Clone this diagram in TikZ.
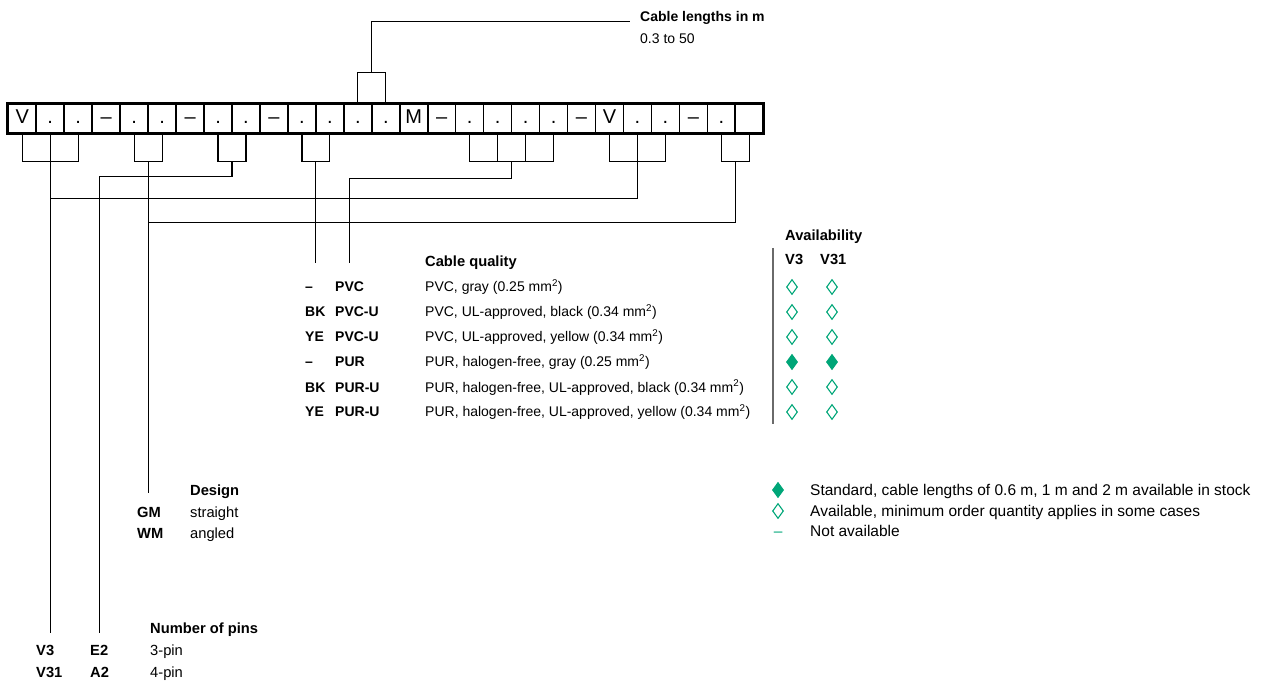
\documentclass[tikz,border=0pt]{standalone}
\usepackage{fontspec}
\setmainfont{Liberation Sans}
\usetikzlibrary{positioning,calc,shapes.geometric}
\definecolor{leaf}{HTML}{00A678}
\definecolor{slate}{HTML}{6A6A6A}
\tikzset{cell/.style={draw,line width=1.6pt,minimum width=27.96pt,minimum height=29pt,inner sep=0pt,text height=15pt,text depth=4pt,font=\fontsize{20}{20}\selectfont},wire/.style={line width=1.2pt},txt/.style={anchor=base west,inner sep=0pt,font=\fontsize{14}{16}\selectfont},code/.style={txt,font=\fontsize{14}{16}\selectfont\bfseries},head/.style={txt,font=\fontsize{14.7}{16}\selectfont\bfseries},note/.style={txt,font=\fontsize{14.7}{16}\selectfont},keyb/.style={txt,font=\fontsize{14.7}{16}\selectfont\bfseries},legend/.style={txt,font=\fontsize{15.5}{17}\selectfont},avail/.style={diamond,draw=leaf,line width=1.1pt,minimum width=11pt,minimum height=15pt,inner sep=0pt},stock/.style={avail,fill=leaf}}
\begin{document}
\begin{tikzpicture}[x=1pt,y=-1pt]
\useasboundingbox (0,0) rectangle (1277,684);
% order code row
\foreach \s [count=\i] in {V,.,.,–,.,.,–,.,.,–,.,.,.,.,M,–,.,.,.,.,–,V,.,.,–,.,{}}
  \node[cell] (c\i) at ({8.33+(\i-0.5)*27.96},118.5) {\s};
\draw[line width=2.6pt] (c1.north west) rectangle (c27.south east);
% labels
\node[head,font=\fontsize{14}{16}\selectfont\bfseries] (len) at (640,22) {Cable lengths in m};
\node[txt] (lenv) at (640,44) {0.3 to 50};
\node[head] (qt) at (425,267) {Cable quality};
\foreach \a/\b/\d [count=\k from 0] in {–/PVC/{PVC, gray (0.25 mm\textsuperscript{2})},BK/PVC-U/{PVC, UL-approved, black (0.34 mm\textsuperscript{2})},YE/PVC-U/{PVC, UL-approved, yellow (0.34 mm\textsuperscript{2})},–/PUR/{PUR, halogen-free, gray (0.25 mm\textsuperscript{2})},BK/PUR-U/{PUR, halogen-free, UL-approved, black (0.34 mm\textsuperscript{2})},YE/PUR-U/{PUR, halogen-free, UL-approved, yellow (0.34 mm\textsuperscript{2})}}{
  \node[code] (qa\k) at (305,292+25*\k) {\a};
  \node[code] (qb\k) at (335,292+25*\k) {\b};
  \node[txt] (qd\k) at (425,292+25*\k) {\d};}
\node[head] (av) at (785,241) {Availability};
\node[keyb] (avA) at (785,265) {V3};
\node[keyb] (avB) at (820,265) {V31};
\draw[slate,line width=1.5pt] (773,248) -- (773,424);
\foreach \st [count=\k from 0] in {avail,avail,avail,stock,avail,avail}{
  \node[\st] (da\k) at (792,287+25*\k) {};
  \node[\st] (db\k) at (832,287+25*\k) {};}
\node[stock] (lg1) at (778,490) {};
\node[avail] (lg2) at (778,511) {};
\node[legend,text=leaf] (lg3) at (773.7,536) {–};
\node[legend] (lt1) at (810,495) {Standard, cable lengths of 0.6 m, 1 m and 2 m available in stock};
\node[legend] (lt2) at (810,516) {Available, minimum order quantity applies in some cases};
\node[legend] (lt3) at (810,536) {Not available};
\node[head] (dsn) at (190,495) {Design};
\node[keyb] (gm) at (137,517) {GM};
\node[note] (gmt) at (190,517) {straight};
\node[keyb] (wm) at (137,538) {WM};
\node[note] (wmt) at (190,538) {angled};
\node[head] (pins) at (150,633) {Number of pins};
\node[keyb] (v3) at (36,655) {V3};
\node[keyb] (e2) at (90,655) {E2};
\node[note] (p3) at (150,655) {3-pin};
\node[keyb] (v31) at (36,677) {V31};
\node[keyb] (a2) at (90,677) {A2};
\node[note] (p4) at (150,677) {4-pin};
% brackets and leads
\draw[wire] (c13.north) -- ++(0,-31) -| (c14.north);
\draw[wire,shorten >=10pt] ($(c13.north)!.5!(c14.north)+(0,-31)$) |- ($(len.west)+(0,3)$);
\draw[wire] (c1.south) -- ++(0,28) -| (c3.south);
\draw[wire] (c2.south) -- ($(c2.south |- v3.north)+(0,-12)$);
\draw[wire] (c5.south) -- ++(0,28) -| (c6.south);
\coordinate (mD) at ($(c5.south)!.5!(c6.south)+(0,28)$);
\draw[wire] (mD) -- ($(mD |- gm.north)+(0,-14)$);
\draw[wire] (c8.south) -- ++(0,28) -| (c9.south);
\draw[wire] ($(c8.south)!.5!(c9.south)+(0,28)$) -- ++(0,15) -| ($(e2.north)+(0,-12)$);
\draw[wire] (c11.south) -- ++(0,28) -| (c12.south);
\coordinate (mQ) at ($(c11.south)!.5!(c12.south)+(0,28)$);
\draw[wire] (mQ) -- (mQ |- qt.west);
\draw[wire] (c17.south) -- ++(0,28) -| (c20.south);
\draw[wire] (c18.south) -- ++(0,28); \draw[wire] (c19.south) -- ++(0,28);
\draw[wire] ($(c18.south)!.5!(c19.south)+(0,28)$) -- ++(0,17) -| (qb0.north |- qt.west);
\draw[wire] (c22.south) -- ++(0,28) -| (c24.south);
\draw[wire] (c23.south) |- ($(c2.south)+(0,65)$);
\draw[wire] (c26.south) -- ++(0,28) -| (c27.south);
\draw[wire] ($(c26.south)!.5!(c27.south)+(0,28)$) |- ($(mD)+(0,61)$);
\end{tikzpicture}
\end{document}
